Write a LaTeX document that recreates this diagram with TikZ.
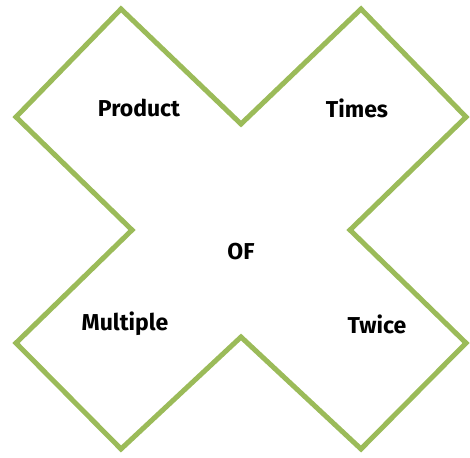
\documentclass[tikz,border=0pt]{standalone}
\usepackage{fontspec}
\setmainfont{Fira Sans}
\definecolor{xgreen}{HTML}{9BBB59}
\tikzset{
  outline/.style={draw=xgreen, line width=5pt, line join=miter},
  word/.style={font=\fontsize{23}{26}\selectfont\bfseries, text=black, inner sep=0pt}
}
\begin{document}
\begin{tikzpicture}[x=1pt,y=-1pt]
\useasboundingbox (0,0) rectangle (470,457);
\draw[outline] (121,9) -- (241,124) -- (361,9) -- (466,117) -- (350,230) -- (466,343)
  -- (361,449) -- (241,337) -- (121,449) -- (16,343) -- (132,230) -- (16,117) -- cycle;
\node[word] (product) at (139,108) {Product};
\node[word] (times) at (357,108) {Times};
\node[word] (of) at (241,252) {OF};
\node[word] (multiple) at (125,324) {Multiple};
\node[word] (twice) at (377,324) {Twice};
\end{tikzpicture}
\end{document}
